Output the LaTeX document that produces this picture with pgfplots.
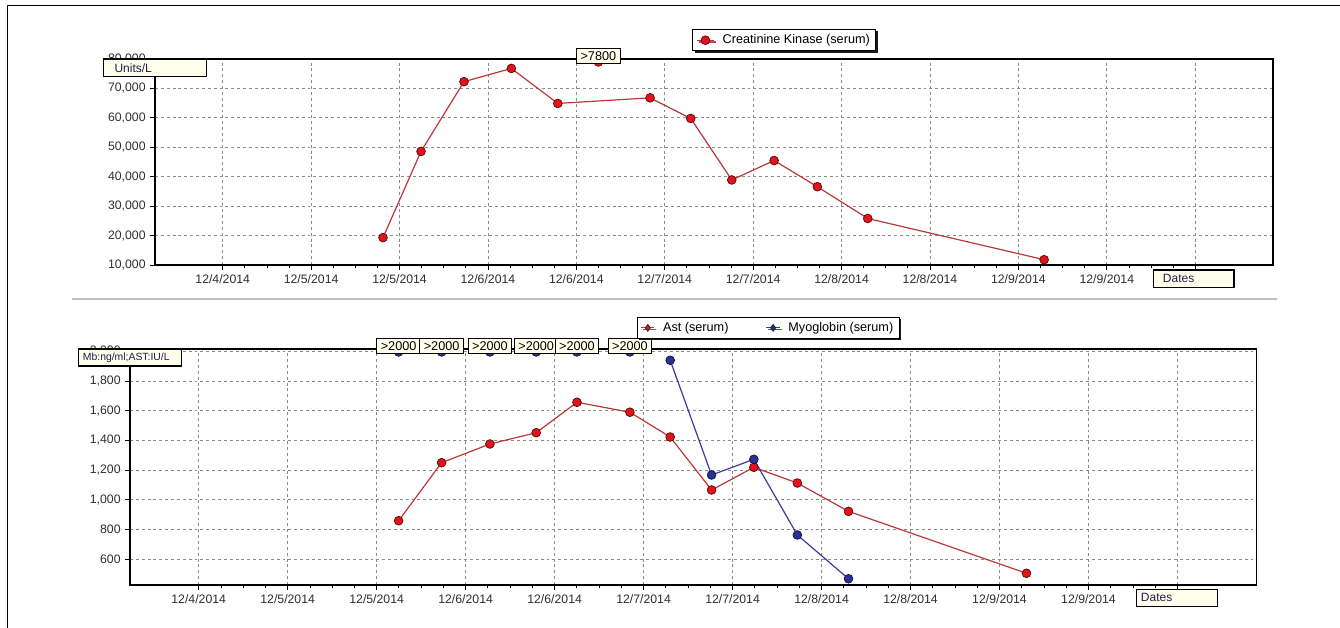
\documentclass[border=0pt]{standalone}
\usepackage{fontspec}
\setmainfont{Liberation Sans}
\usepackage{pgfplots}
\pgfplotsset{compat=1.18}
\usetikzlibrary{shadows}

\definecolor{ckline}{HTML}{B8383B}
\definecolor{ckfill}{HTML}{E4121B}
\definecolor{mkdraw}{HTML}{4A0A0A}
\definecolor{myoline}{HTML}{3A3AA0}
\definecolor{myofill}{HTML}{2A3190}
\definecolor{myodraw}{HTML}{10104A}
\definecolor{boxfill}{HTML}{FFFFEC}
\definecolor{boxtext}{HTML}{1C1C50}
\definecolor{ticktext}{HTML}{2E2E2E}
\definecolor{gridc}{HTML}{8A8A8A}

\tikzset{
  boxnode/.style={draw=black, line width=0.7pt, fill=boxfill, font=\fontsize{9.5}{10}\selectfont, text=black, inner xsep=3pt, inner ysep=2.2pt},
}

\pgfplotsset{
  chartbase/.style={
    scale only axis,
    clip=false,
    axis line style={black, line width=0.8pt},
    xtick={0,...,11},
    xticklabels={12/4/2014,12/5/2014,12/5/2014,12/6/2014,12/6/2014,12/7/2014,12/7/2014,12/8/2014,12/8/2014,12/9/2014,12/9/2014,{}},
    minor x tick num=3,
    xmajorgrids, ymajorgrids,
    major grid style={gridc, dash pattern=on 2.2pt off 2.2pt, line width=0.6pt},
    tick style={black, line width=0.6pt},
    major tick length=3.5pt, minor tick length=2.5pt,
    tick align=outside,
    xtick pos=left, ytick pos=left,
    tick label style={font=\fontsize{9.2}{10}\selectfont, text=ticktext},
    /pgf/number format/assume math mode=true,
    /pgf/number format/1000 sep={,},
    scaled y ticks=false,
    legend cell align=left,
  },
}

\pgfplotstableread{
x y
1.813 19300
2.243 48600
2.729 72300
3.265 76800
3.790 64900
4.834 66800
5.294 59800
5.758 38900
6.237 45500
6.726 36600
7.296 25800
9.291 11800
}\cktable

\pgfplotstableread{
x y
4.249 79000
}\ckhigh

\pgfplotstableread{
x y
2.247 858
2.730 1249
3.273 1375
3.793 1451
4.251 1656
4.846 1589
5.299 1422
5.764 1065
6.239 1218
6.728 1112
7.303 921
9.303 504
}\asttable

\pgfplotstableread{
x y
5.299 1939
5.764 1166
6.239 1272
6.728 762
7.303 467
}\myotable

\pgfplotstableread{
x y
2.247 1995
2.730 1995
3.273 1995
3.793 1995
4.251 1995
4.846 1995
}\myohigh

\begin{document}
\begin{tikzpicture}
\useasboundingbox (0,0) rectangle (1005pt,471pt);
% frame
\draw[black, line width=0.9pt] (5.5pt,0pt) -- (5.5pt,467pt) -- (1005pt,467pt);
% separator
\draw[black!25, line width=1.5pt] (54pt,247.1pt) -- (957.75pt,247.1pt);

% ---------------- top chart ----------------
\begin{axis}[chartbase,
  at={(116.25pt,272.25pt)}, anchor=south west,
  width=838.5pt, height=154.5pt,
  xmin=-0.766, xmax=11.88,
  ymin=10000, ymax=80000,
  ytick={10000,20000,...,80000},
  legend style={at={(0.4806,1.1456)}, anchor=north west,
    draw=black, line width=0.8pt, fill=white,
    font=\fontsize{9.5}{10}\selectfont,
    inner xsep=2.5pt, inner ysep=1.8pt,
    /tikz/every odd column/.append style={column sep=4pt},
    drop shadow={shadow xshift=1.3pt, shadow yshift=-1.3pt, fill=black, opacity=0.9}},
  legend image code/.code={\draw[#1, mark repeat=2, mark phase=2] plot coordinates {(0pt,0pt) (6.5pt,0pt) (13pt,0pt)};},
]
\addplot[ckline, line width=0.9pt, mark=*, mark size=3.3pt,
  mark options={fill=ckfill, draw=mkdraw, line width=0.5pt, solid}] table {\cktable};
\addlegendentry{Creatinine Kinase (serum)}
\addplot[forget plot, only marks, mark=*, mark size=3.3pt,
  mark options={fill=ckfill, draw=mkdraw, line width=0.5pt},
  nodes near coords={>7800},
  every node near coord/.append style={boxnode, anchor=south, yshift=-1.5pt}] table {\ckhigh};
\draw[black, line width=1.6pt] (rel axis cs:0,1) -- (rel axis cs:0,0) -- (rel axis cs:1,0);
\end{axis}

% ---------------- bottom chart ----------------
\begin{axis}[chartbase,
  at={(97.5pt,32.25pt)}, anchor=south west,
  width=845pt, height=177pt,
  xmin=-0.772, xmax=11.89,
  ymin=425, ymax=2015,
  ytick={600,800,...,2000},
  legend columns=2,
  legend style={at={(0.4497,1.1369)}, anchor=north west,
    draw=black, line width=0.8pt, fill=white,
    font=\fontsize{9.5}{10}\selectfont,
    inner xsep=2.5pt, inner ysep=1.8pt,
    /tikz/every odd column/.append style={column sep=4pt},
    /tikz/every even column/.append style={column sep=26pt},
    drop shadow={shadow xshift=1.3pt, shadow yshift=-1.3pt, fill=black, opacity=0.9}},
  legend image code/.code={\draw[#1, mark repeat=2, mark phase=2] plot coordinates {(0pt,0pt) (5pt,0pt) (10pt,0pt)};},
]
\addplot[ckline, line width=0.9pt, mark=*, mark size=3.3pt,
  mark options={fill=ckfill, draw=mkdraw, line width=0.5pt, solid},
  legend image post style={mark=diamond*, mark size=2.6pt}] table {\asttable};
\addlegendentry{Ast (serum)}
\addplot[myoline, line width=0.9pt, mark=*, mark size=3.3pt,
  mark options={fill=myofill, draw=myodraw, line width=0.5pt, solid},
  legend image post style={mark=diamond*, mark size=2.6pt}] table {\myotable};
\addlegendentry{Myoglobin (serum)}
\addplot[forget plot, only marks, mark=*, mark size=3.3pt,
  mark options={fill=myofill, draw=myodraw, line width=0.5pt},
  nodes near coords={>2000},
  every node near coord/.append style={boxnode, anchor=south, yshift=-1.5pt}] table {\myohigh};
\draw[black, line width=1.6pt] (rel axis cs:0,1) -- (rel axis cs:0,0) -- (rel axis cs:1,0);
\end{axis}

% ---------------- annotation boxes ----------------
\draw[black, line width=0.9pt, fill=boxfill] (77.5pt,413.5pt) rectangle (155pt,426.75pt);
\node[anchor=west, inner sep=0pt, text=boxtext, font=\fontsize{9}{10}\selectfont] at (85.7pt,420.1pt) {Units/L};

\draw[black, line width=0.9pt, fill=boxfill] (59pt,196.5pt) rectangle (136.3pt,209.25pt);
\node[anchor=west, inner sep=0pt, text=boxtext, font=\fontsize{7.8}{9}\selectfont] at (62pt,202.9pt) {Mb:ng/ml;AST:IU/L};

\draw[black, line width=0.9pt, fill=boxfill] (865pt,255.2pt) rectangle (925.5pt,268.5pt);
\node[anchor=west, inner sep=0pt, text=boxtext, font=\fontsize{9}{10}\selectfont] at (872pt,262pt) {Dates};

\draw[black, line width=0.9pt, fill=boxfill] (852.5pt,16pt) rectangle (913pt,29pt);
\node[anchor=west, inner sep=0pt, text=boxtext, font=\fontsize{9}{10}\selectfont] at (855.5pt,22.6pt) {Dates};
\end{tikzpicture}
\end{document}
